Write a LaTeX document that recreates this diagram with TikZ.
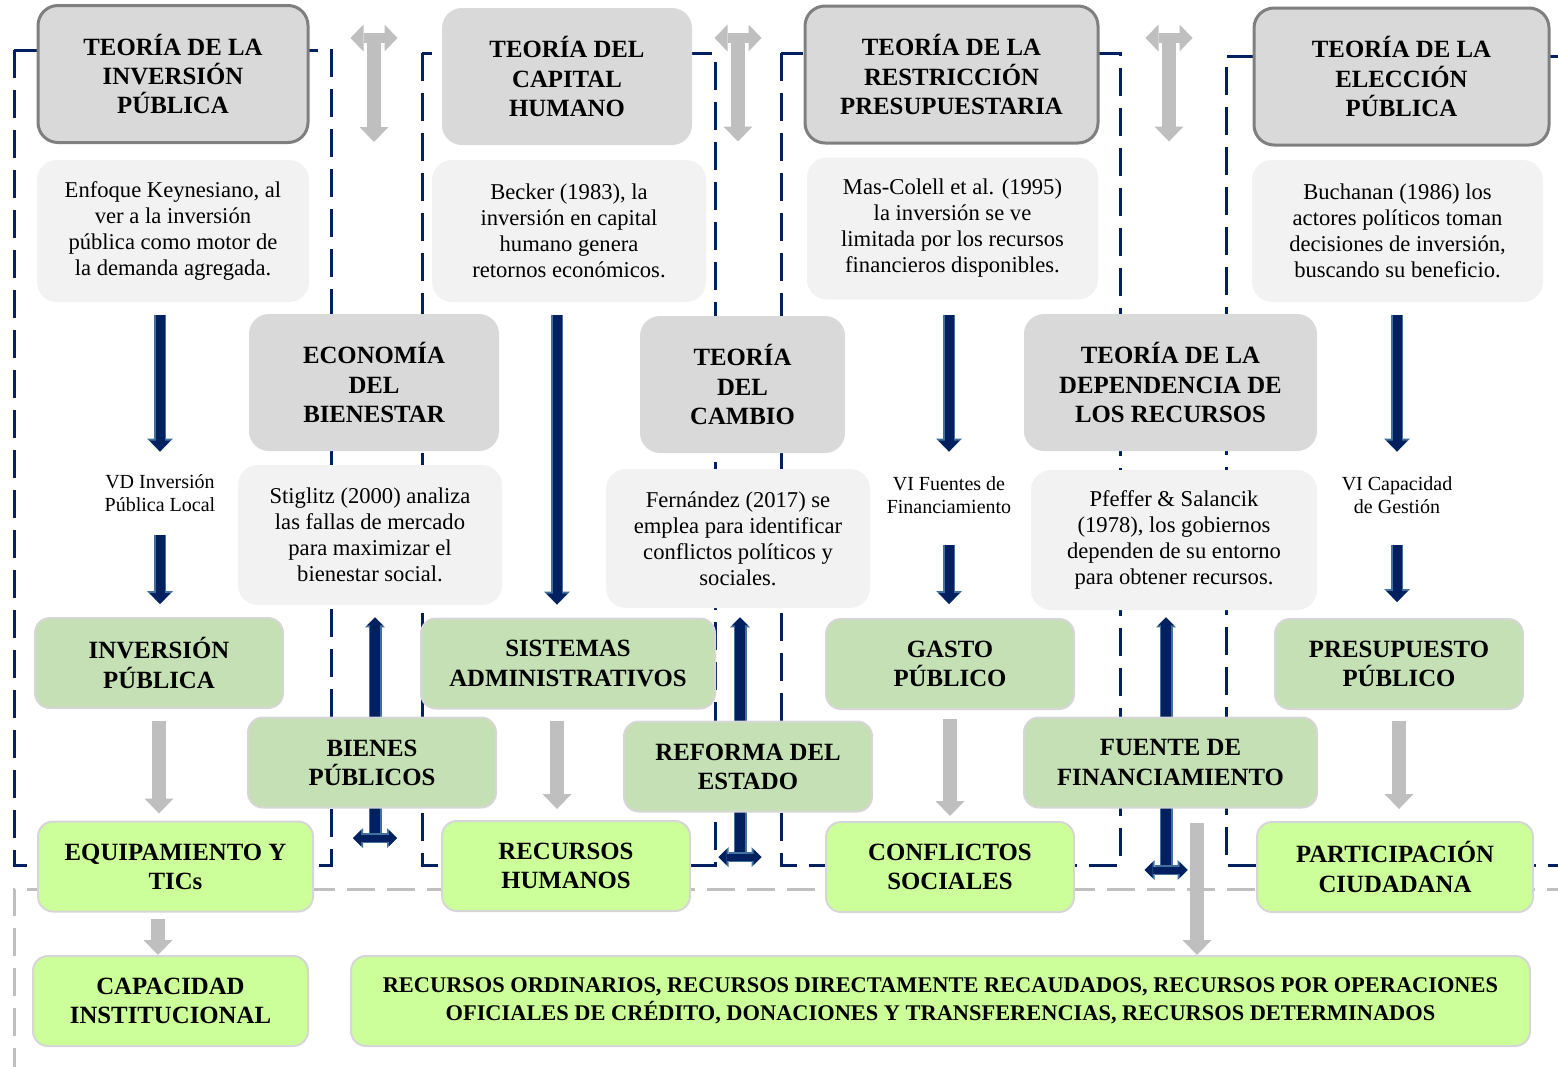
\documentclass[tikz,border=0pt]{standalone}
\usepackage{fontspec}
\setmainfont{Liberation Serif}
\usetikzlibrary{arrows.meta}
\definecolor{hdrgray}{HTML}{D9D9D9}
\definecolor{hdredge}{HTML}{7F7F7F}
\definecolor{txtgray}{HTML}{F2F2F2}
\definecolor{midgreen}{HTML}{C5E0B4}
\definecolor{limegreen}{HTML}{CCFF99}
\definecolor{boxedge}{HTML}{D6D6D6}
\definecolor{navyin}{HTML}{002060}
\definecolor{navyedge}{HTML}{41719C}
\definecolor{arrgray}{HTML}{BFBFBF}
\pgfdeclarelayer{back}
\pgfsetlayers{back,main}

\begin{document}
\begin{tikzpicture}[x=0.5pt, y=-0.5pt,
    hdr/.style={fill=hdrgray, rounded corners=10pt, align=center, inner sep=0pt, font=\fontsize{12.4}{14.6}\selectfont\bfseries, minimum height=68.5pt},
    hdrline/.style={hdr, draw=hdredge, line width=1.5pt},
    txt/.style={fill=txtgray, rounded corners=10pt, align=center, inner sep=0pt, font=\fontsize{11.3}{13}\selectfont, minimum height=71pt},
    var/.style={align=center, inner sep=0pt, font=\fontsize{10}{11.5}\selectfont},
    grnbox/.style={fill=midgreen, draw=boxedge, line width=1pt, rounded corners=7.5pt, align=center, inner sep=0pt, font=\fontsize{12.4}{14.6}\selectfont\bfseries, minimum width=124pt, minimum height=45pt},
    limebox/.style={grnbox, fill=limegreen},
    colframe/.style={navyin, line width=1.5pt, dash pattern=on 14pt off 6pt},
    gdash/.style={arrgray, line width=1.5pt, dash pattern=on 14pt off 6pt},
    navyarr/.style={navyin, line width=4.5pt, -{Triangle[length=5.5pt,width=10.5pt,line width=0pt]}, preaction={draw, navyedge, line width=6pt, -{Triangle[length=6.5pt,width=13pt,line width=0pt]}}},
    navyup/.style={navyin, line width=5pt, -{Triangle[length=4pt,width=8pt,line width=0pt]}, preaction={draw, navyedge, line width=6.5pt, -{Triangle[length=5pt,width=10pt,line width=0pt]}}},
    navybar/.style={navyin, line width=3.5pt, >={Triangle[length=4pt,width=8pt,line width=0pt]}, <->, preaction={draw, navyedge, line width=5pt, >={Triangle[length=5pt,width=10pt,line width=0pt]}, <->}},
    grayarr/.style={arrgray, line width=7pt, -{Triangle[length=7.5pt,width=14.5pt,line width=0pt]}},
    graybar/.style={arrgray, line width=5pt, >={Triangle[length=6.5pt,width=13.5pt,line width=0pt]}, <->}]
\useasboundingbox (0,0) rectangle (1558,1066);

\node[hdrline, minimum width=135pt] (h1) at (173,74) {TEORÍA DE LA\\INVERSIÓN\\PÚBLICA};
\node[hdr, minimum width=125pt] (h2) at (567,76.5) {TEORÍA DEL\\CAPITAL\\HUMANO};
\node[hdrline, minimum width=146.5pt] (h3) at (951.5,74.5) {TEORÍA DE LA\\RESTRICCIÓN\\PRESUPUESTARIA};
\node[hdrline, minimum width=147.5pt] (h4) at (1401.5,76.5) {TEORÍA DE LA\\ELECCIÓN\\PÚBLICA};

\node[txt, minimum width=136pt] (t1) at (173,231) {Enfoque Keynesiano, al\\ver a la inversión\\pública como motor de\\la demanda agregada.};
\node[txt, minimum width=137pt] (t2) at (569,231) {Becker (1983), la\\inversión en capital\\humano genera\\retornos económicos.};
\node[txt, minimum width=145.5pt] (t3) at (952.5,228.5) {Mas-Colell et al. (1995)\\la inversión se ve\\limitada por los recursos\\financieros disponibles.};
\node[txt, minimum width=145.5pt] (t4) at (1397.5,231) {Buchanan (1986) los\\actores políticos toman\\decisiones de inversión,\\buscando su beneficio.};

\node[hdr, minimum width=125pt] (m1) at (374,382.5) {ECONOMÍA\\DEL\\BIENESTAR};
\node[hdr, minimum width=102.5pt] (m2) at (742.5,384.5) {TEORÍA\\DEL\\CAMBIO};
\node[hdr, minimum width=146.5pt] (m3) at (1170.5,382.5) {TEORÍA DE LA\\DEPENDENCIA DE\\LOS RECURSOS};

\node[txt, minimum width=132pt, minimum height=70pt] (s1) at (370,535) {Stiglitz (2000) analiza\\las fallas de mercado\\para maximizar el\\bienestar social.};
\node[txt, minimum width=132pt, minimum height=69.5pt] (s2) at (738,538.5) {Fernández (2017) se\\emplea para identificar\\conflictos políticos y\\sociales.};
\node[txt, minimum width=143pt, minimum height=70pt] (s3) at (1174,540) {Pfeffer \& Salancik\\(1978), los gobiernos\\dependen de su entorno\\para obtener recursos.};

\node[var, minimum height=41.5pt] (vd) at (160,493.5) {VD Inversión\\Pública Local};
\node[var, minimum height=46.5pt] (vf) at (949,495) {VI Fuentes de\\Financiamiento};
\node[var, minimum height=46.5pt] (vc) at (1397,495.5) {VI Capacidad\\de Gestión};

\node[grnbox] (g1) at (159,663) {INVERSIÓN\\PÚBLICA};
\node[grnbox, minimum width=147pt] (g2) at (568,663.5) {SISTEMAS\\ADMINISTRATIVOS};
\node[grnbox] (g3) at (950,664) {GASTO\\PÚBLICO};
\node[grnbox] (g4) at (1399,664) {PRESUPUESTO\\PÚBLICO};
\node[grnbox] (b1) at (372,762.5) {BIENES\\PÚBLICOS};
\node[grnbox] (b2) at (748,766.5) {REFORMA DEL\\ESTADO};
\node[grnbox, minimum width=146.5pt] (b3) at (1170.5,762.5) {FUENTE DE\\FINANCIAMIENTO};

\node[limebox, minimum width=137.5pt] (r1) at (175.5,866.5) {EQUIPAMIENTO Y\\TICs};
\node[limebox] (r2) at (566,866) {RECURSOS\\HUMANOS};
\node[limebox] (r3) at (950,867) {CONFLICTOS\\SOCIALES};
\node[limebox, minimum width=138pt] (r4) at (1395,867) {PARTICIPACIÓN\\CIUDADANA};
\node[limebox, minimum width=137.5pt] (r5) at (170.5,1001) {CAPACIDAD\\INSTITUCIONAL};
\node[limebox, minimum width=589.5pt, font=\fontsize{11.2}{14}\selectfont\bfseries] (r6) at (940.5,1001) {RECURSOS ORDINARIOS, RECURSOS DIRECTAMENTE RECAUDADOS, RECURSOS POR OPERACIONES\\OFICIALES DE CRÉDITO, DONACIONES Y TRANSFERENCIAS, RECURSOS DETERMINADOS};

\begin{pgfonlayer}{back}
\draw[colframe] (14,50) rectangle (331,865);
\draw[colframe] (422,53) rectangle (715,865);
\draw[colframe] (781,53) rectangle (1120,865);
\draw[colframe] (1575,56) -- (1226,56) -- (1226,865) -- (1575,865);
\draw[gdash] (1575,889) -- (14,889) -- (14,1080);

\coordinate (nt1) at (375,838);
\coordinate (nt2) at (740,857);
\coordinate (nt3) at (1166,870);
\draw[navyup, shorten >=6pt] (nt1) -- (nt1 |- s1.south);
\draw[navyup, shorten >=4.5pt] (nt2) -- (nt2 |- s2.south);
\draw[navyup, shorten >=3.5pt] (nt3) -- (nt3 |- s3.south);
\draw[navybar] ([xshift=-11pt]nt1) -- ([xshift=11pt]nt1);
\draw[navybar] ([xshift=-10.75pt]nt2) -- ([xshift=10.75pt]nt2);
\draw[navybar] ([xshift=-10.75pt]nt3) -- ([xshift=10.75pt]nt3);
\end{pgfonlayer}

\coordinate (gt1) at (374,38);
\coordinate (gt2) at (738,38);
\coordinate (gt3) at (1169,38);
\draw[grayarr, shorten >=1pt] (gt1) -- (gt1 |- h1.south);
\draw[grayarr, shorten >=1.5pt] (gt2) -- (gt2 |- h3.south);
\draw[grayarr, shorten >=1.5pt] (gt3) -- (gt3 |- h3.south);
\draw[graybar] ([xshift=-11.75pt]gt1) -- ([xshift=11.75pt]gt1);
\draw[graybar] ([xshift=-11.75pt]gt2) -- ([xshift=11.75pt]gt2);
\draw[graybar] ([xshift=-11.75pt]gt3) -- ([xshift=11.75pt]gt3);

\draw[navyarr, shorten <=6.5pt] (t1.south -| vd) -- (vd.north);
\draw[navyarr, shorten >=6.5pt] (vd.south) -- (vd.south |- g1.north);
\draw[navyarr, shorten <=6.5pt, shorten >=6.5pt] ([xshift=-6pt]t2.south) -- ([xshift=-5.5pt]g2.north);
\draw[navyarr, shorten <=7.5pt, shorten >=-1.75pt] (t3.south -| vf) -- (vf.north);
\draw[navyarr, shorten <=1.75pt, shorten >=7pt] (vf.south) -- (vf.south |- g3.north);
\draw[navyarr, shorten <=6.5pt, shorten >=-1.5pt] (t4.south -| vc) -- (vc.north);
\draw[navyarr, shorten <=1.5pt, shorten >=8pt] (vc.south) -- (vc.south |- g4.north);

\draw[grayarr, shorten <=6pt, shorten >=3.5pt] (g1.south) -- (g1.south |- r1.north);
\draw[grayarr, shorten <=5.5pt, shorten >=5.5pt] ([xshift=-5.5pt]g2.south) -- ([xshift=-5.5pt]g2.south |- r2.north);
\draw[grayarr, shorten <=4.5pt, shorten >=2.5pt] (g3.south) -- (g3.south |- r3.north);
\draw[grayarr, shorten <=5.5pt, shorten >=6pt] (g4.south) -- (g4.south |- r4.north);
\draw[grayarr, shorten <=3pt] ([xshift=-8.75pt]r1.south) -- ([xshift=-8.75pt]r1.south |- r5.north);
\draw[grayarr, shorten <=7pt] ([xshift=13.25pt]b3.south) -- ([xshift=13.25pt]b3.south |- r6.north);
\end{tikzpicture}
\end{document}
